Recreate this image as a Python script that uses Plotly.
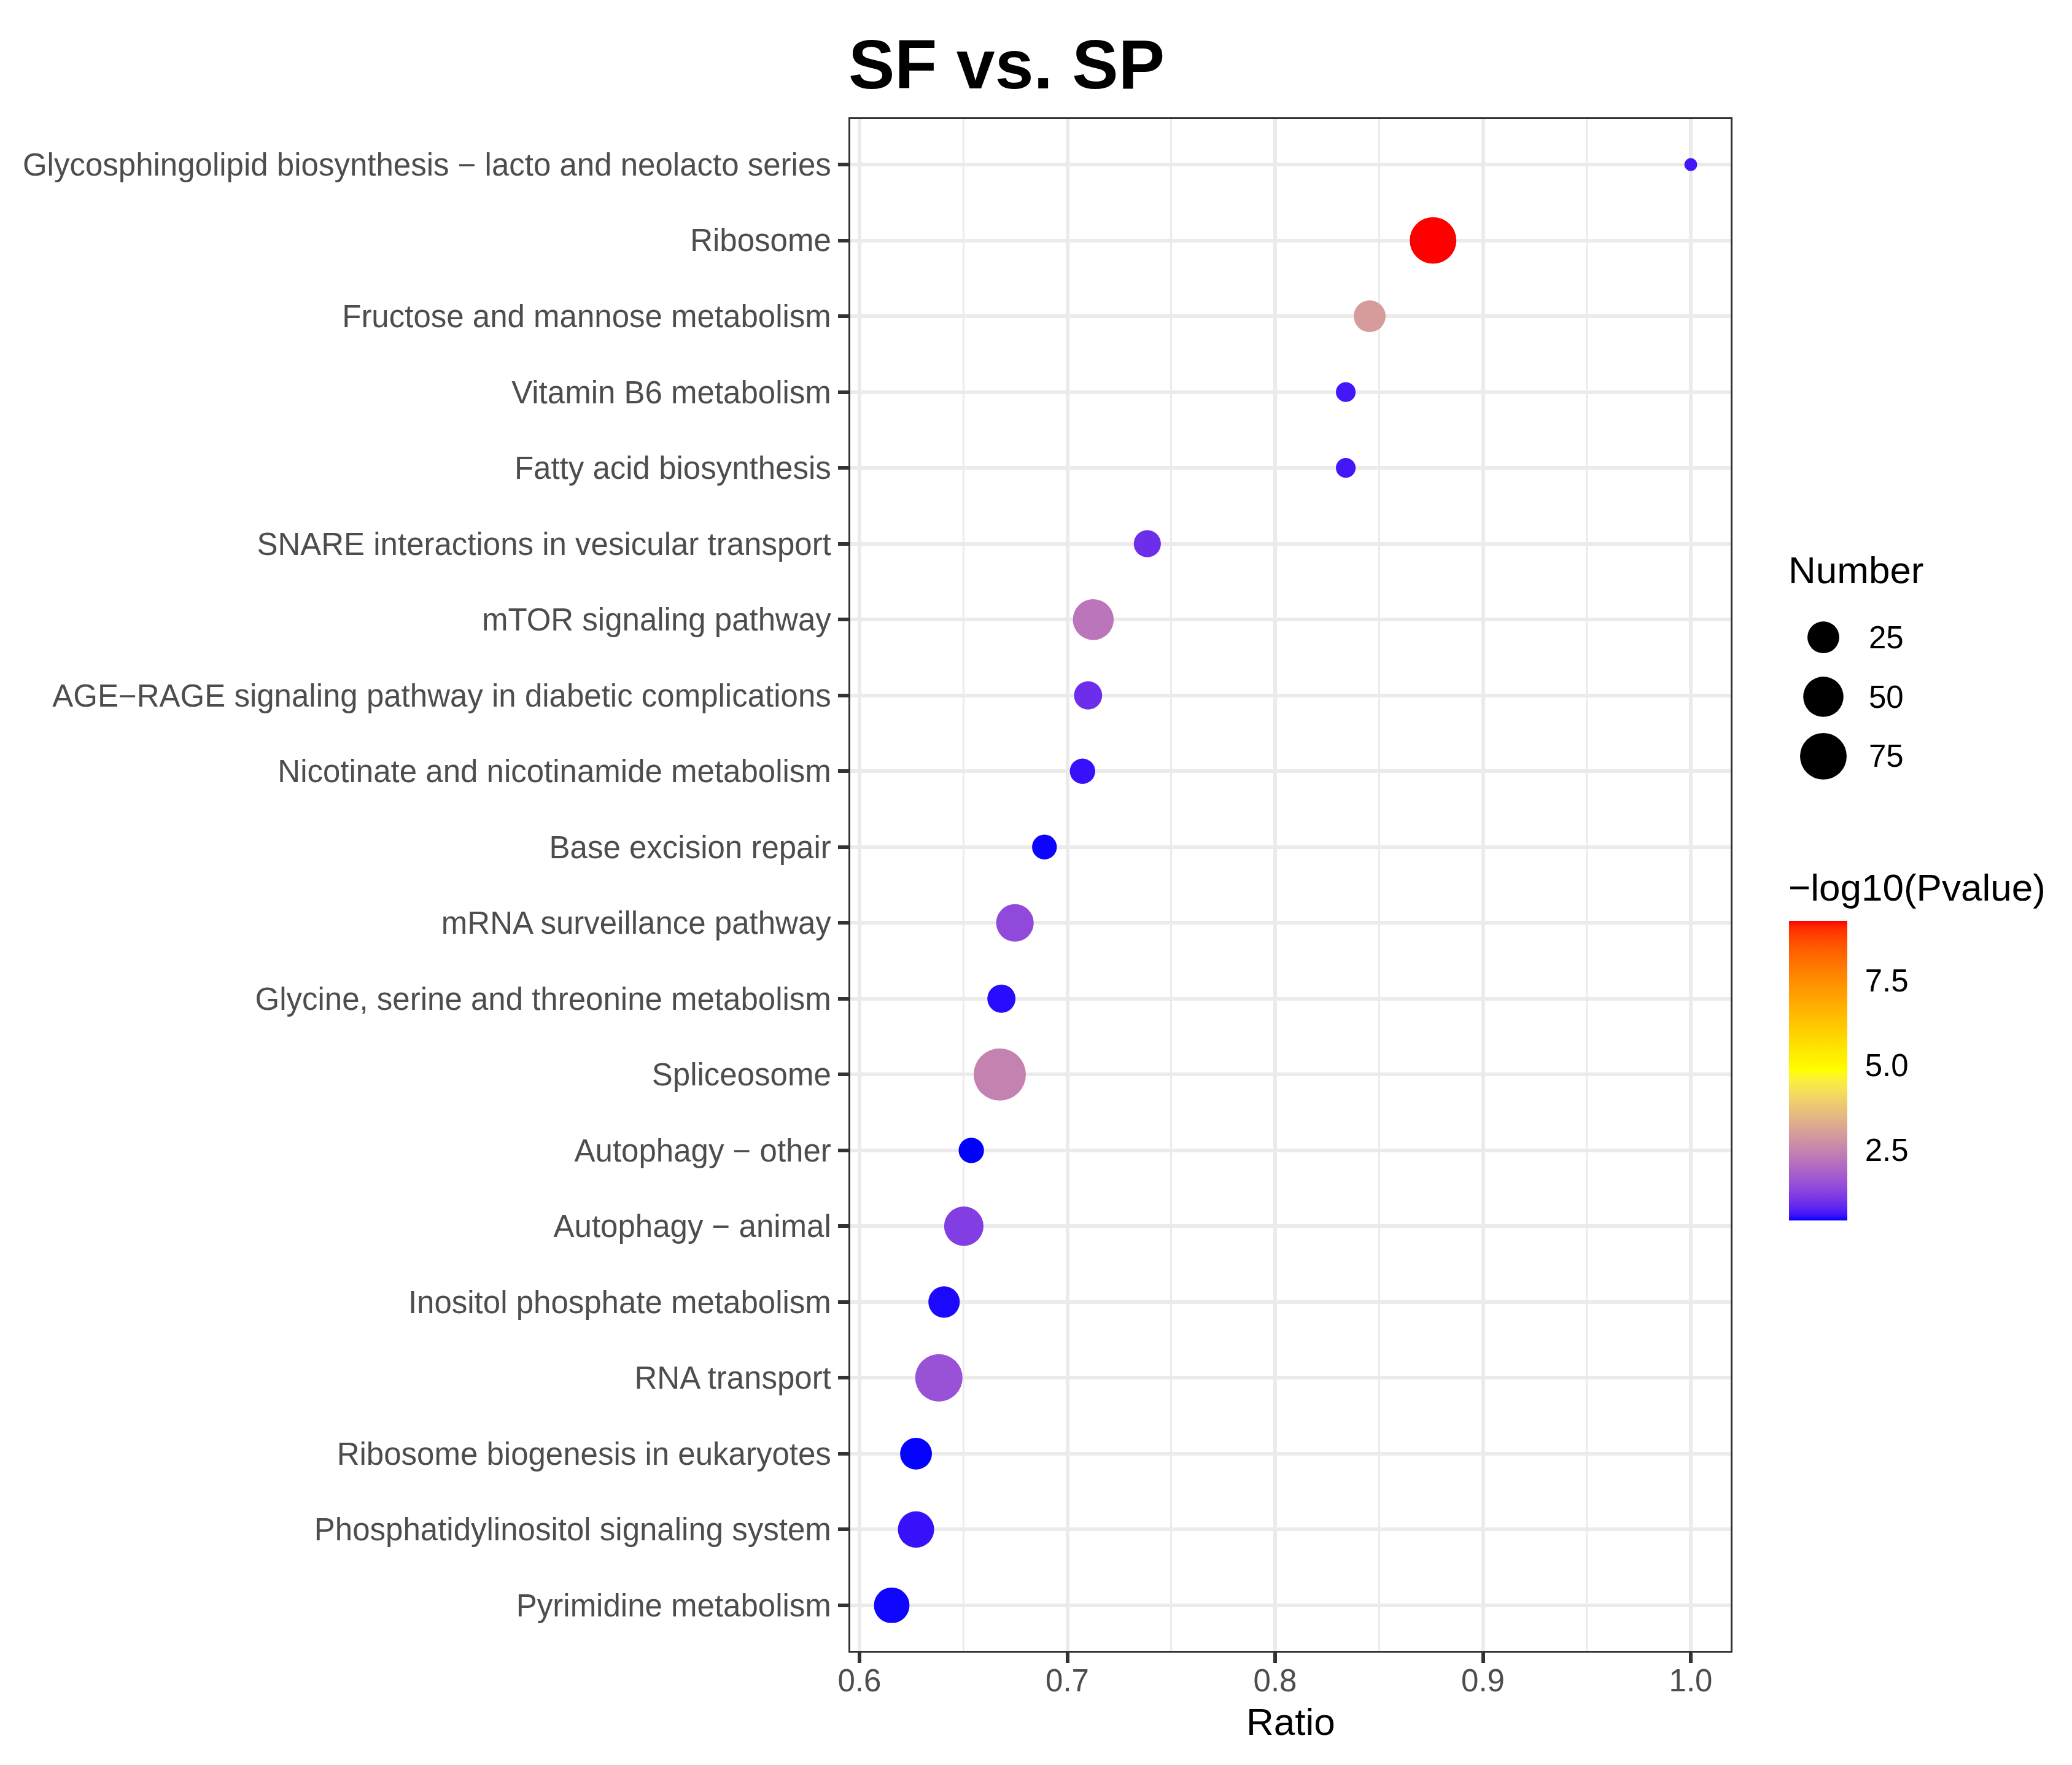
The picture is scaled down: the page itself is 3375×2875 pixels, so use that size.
import numpy as np
import plotly.graph_objects as go

# ---- data (rows listed top to bottom as in the chart) ----
pathways = [
    "Glycosphingolipid biosynthesis \u2212 lacto and neolacto series",
    "Ribosome",
    "Fructose and mannose metabolism",
    "Vitamin B6 metabolism",
    "Fatty acid biosynthesis",
    "SNARE interactions in vesicular transport",
    "mTOR signaling pathway",
    "AGE\u2212RAGE signaling pathway in diabetic complications",
    "Nicotinate and nicotinamide metabolism",
    "Base excision repair",
    "mRNA surveillance pathway",
    "Glycine, serine and threonine metabolism",
    "Spliceosome",
    "Autophagy \u2212 other",
    "Autophagy \u2212 animal",
    "Inositol phosphate metabolism",
    "RNA transport",
    "Ribosome biogenesis in eukaryotes",
    "Phosphatidylinositol signaling system",
    "Pyrimidine metabolism",
]
ratio = [1.000, 0.876, 0.8455, 0.834, 0.834, 0.7385, 0.7125, 0.710, 0.7073, 0.689,
         0.6748, 0.6683, 0.6675, 0.6538, 0.6502, 0.6407, 0.6382, 0.6272, 0.6272, 0.6155]
number = [2, 75, 25, 5, 5, 15, 52, 17, 12, 11,
          41, 17, 101, 12, 47, 24, 78, 25, 37, 35]
neglog10p = [0.62, 9.26, 2.97, 0.62, 0.62, 0.95, 2.23, 0.95, 0.56, 0.45,
             1.40, 0.52, 2.47, 0.42, 1.20, 0.49, 1.55, 0.43, 0.56, 0.46]

size_breaks = [25, 50, 75]
color_ticks = [2.5, 5.0, 7.5]

# ---- ggplot-like scales ----
D_MIN, D_MAX = 21, 85          # point diameter range (px)
n_min, n_max = min(number), max(number)


def point_size(n):
    n = np.asarray(n, dtype=float)
    return D_MIN + (D_MAX - D_MIN) * np.sqrt((n - n_min) / (n_max - n_min))


def to_lab(hexcol):
    rgb = np.array([int(hexcol[i:i + 2], 16) for i in (1, 3, 5)]) / 255
    lin = np.where(rgb <= 0.04045, rgb / 12.92, ((rgb + 0.055) / 1.055) ** 2.4)
    m = np.array([[0.4124564, 0.3575761, 0.1804375],
                  [0.2126729, 0.7151522, 0.0721750],
                  [0.0193339, 0.1191920, 0.9503041]])
    xyz = m @ lin / np.array([0.95047, 1.0, 1.08883])
    f = np.where(xyz > 0.008856, np.cbrt(xyz), 7.787 * xyz + 16 / 116)
    return np.array([116 * f[1] - 16, 500 * (f[0] - f[1]), 200 * (f[1] - f[2])])


def from_lab(lab):
    fy = (lab[0] + 16) / 116
    f = np.array([fy + lab[1] / 500, fy, fy - lab[2] / 200])
    xyz = np.where(f ** 3 > 0.008856, f ** 3, (f - 16 / 116) / 7.787)
    xyz = xyz * np.array([0.95047, 1.0, 1.08883])
    m = np.array([[3.2404542, -1.5371385, -0.4985314],
                  [-0.9692660, 1.8760108, 0.0415560],
                  [0.0556434, -0.2040259, 1.0572252]])
    lin = np.clip(m @ xyz, 0, 1)
    rgb = np.where(lin <= 0.0031308, 12.92 * lin, 1.055 * lin ** (1 / 2.4) - 0.055)
    r, g, b = np.round(np.clip(rgb, 0, 1) * 255).astype(int)
    return f"rgb({r},{g},{b})"


# blue -> yellow -> red, interpolated in Lab like scale_colour_gradientn
ramp = [to_lab("#0000ff"), to_lab("#ffff00"), to_lab("#ff0000")]
colorscale = []
for p in np.linspace(0, 1, 61):
    if p <= 0.5:
        lab = ramp[0] + (ramp[1] - ramp[0]) * (p / 0.5)
    else:
        lab = ramp[1] + (ramp[2] - ramp[1]) * ((p - 0.5) / 0.5)
    colorscale.append([float(p), from_lab(lab)])
c_min, c_max = min(neglog10p), max(neglog10p)

# ---- geometry (pixels, figure coordinates) ----
W, H = 3367, 2867
M_L, M_R, M_T, M_B = 1377, 0, 186, 186
PANEL_R = 2811
paper_w = W - M_L - M_R
paper_h = H - M_T - M_B


def px_x(x):
    return (x - M_L) / paper_w


def px_y(y):
    return (H - M_B - y) / paper_h


FONT = "Liberation Sans, Arial, sans-serif"
GRID = "#ebebeb"
DARK = "#333333"

CB_X, CB_W = 2906, 95
CB_TOP, CB_LEN = 1492, 488

fig = go.Figure()

fig.add_trace(go.Scatter(
    x=ratio, y=pathways, mode="markers",
    marker=dict(
        size=point_size(number), color=neglog10p, colorscale=colorscale,
        cmin=c_min, cmax=c_max, line=dict(width=0), opacity=1,
        colorbar=dict(
            x=px_x(CB_X), xanchor="left", xpad=0,
            y=px_y(CB_TOP + CB_LEN / 2), yanchor="middle", ypad=0,
            thickness=CB_W, thicknessmode="pixels",
            len=CB_LEN, lenmode="pixels",
            outlinewidth=0,
            tickvals=color_ticks, ticktext=[f"{t:.1f}" for t in color_ticks],
            ticks="outside", ticklen=19, tickwidth=1, tickcolor="rgba(0,0,0,0)",
            tickfont=dict(size=51, color="black", family=FONT),
        ),
    ),
    showlegend=False, hoverinfo="x+y",
))

# size legend on its own small axis pair
fig.add_trace(go.Scatter(
    x=[54] * len(size_breaks), y=list(range(len(size_breaks))),
    mode="markers", xaxis="x2", yaxis="y2",
    marker=dict(size=point_size(size_breaks), color="#000000", opacity=1,
                line=dict(width=0)),
    showlegend=False, hoverinfo="skip",
))
for i, b in enumerate(size_breaks):
    fig.add_annotation(x=126, y=i, xref="x2", yref="y2", text=str(b),
                       showarrow=False, xanchor="left", yanchor="middle",
                       font=dict(size=51, color="black", family=FONT))

fig.add_annotation(x=px_x(2903), y=px_y(920), xref="paper", yref="paper",
                   text="Number", showarrow=False, xanchor="left", yanchor="middle",
                   font=dict(size=62, color="black", family=FONT))

fig.add_annotation(x=px_x(CB_X - 3), y=px_y(1437), xref="paper", yref="paper",
                   text="\u2212log10(Pvalue)", showarrow=False,
                   xanchor="left", yanchor="middle",
                   font=dict(size=62, color="black", family=FONT))

fig.add_annotation(x=0, y=px_y(97), xref="paper", yref="paper", xshift=-5,
                   text="<b>SF vs. SP</b>", showarrow=False,
                   xanchor="left", yanchor="middle",
                   font=dict(size=113, color="black", family=FONT))

fig.add_annotation(x=px_x((M_L + PANEL_R) / 2), y=px_y(2796), xref="paper", yref="paper",
                   text="Ratio", showarrow=False, xanchor="center", yanchor="middle",
                   font=dict(size=62, color="black", family=FONT))

# white ticks on both sides of the colour bar
for t in color_ticks:
    yy = CB_TOP + CB_LEN - (t - c_min) / (c_max - c_min) * CB_LEN
    for x0 in (CB_X, CB_X + CB_W - 19):
        fig.add_shape(type="line", xref="paper", yref="paper",
                      x0=px_x(x0), x1=px_x(x0 + 19), y0=px_y(yy), y1=px_y(yy),
                      line=dict(color="white", width=2))

fig.update_layout(
    width=W, height=H, autosize=False,
    margin=dict(l=M_L, r=M_R, t=M_T, b=M_B),
    paper_bgcolor="white", plot_bgcolor="white",
    font=dict(family=FONT),
    showlegend=False,
    xaxis=dict(
        domain=[0, px_x(PANEL_R)],
        range=[0.59557, 1.0192], tickvals=[0.6, 0.7, 0.8, 0.9, 1.0],
        ticktext=["0.6", "0.7", "0.8", "0.9", "1.0"],
        showgrid=True, gridcolor=GRID, gridwidth=5.5,
        minor=dict(tickvals=[0.65, 0.75, 0.85, 0.95], showgrid=True,
                   gridcolor=GRID, gridwidth=3, ticks=""),
        ticks="outside", ticklen=17, tickwidth=6, tickcolor=DARK,
        ticklabelstandoff=-15,
        tickfont=dict(size=51, color="#4d4d4d", family=FONT),
        showline=True, linecolor=DARK, linewidth=3, mirror=True,
        zeroline=False,
    ),
    yaxis=dict(
        type="category", categoryorder="array", categoryarray=pathways[::-1],
        range=[-0.6, len(pathways) - 0.4],
        showgrid=True, gridcolor=GRID, gridwidth=5.5,
        ticks="outside", ticklen=17, tickwidth=6, tickcolor=DARK,
        ticklabelstandoff=1,
        tickfont=dict(size=51, color="#4d4d4d", family=FONT),
        showline=True, linecolor=DARK, linewidth=3, mirror=True,
        zeroline=False,
    ),
    xaxis2=dict(domain=[px_x(2908), px_x(3108)], range=[0, 200],
                visible=False, anchor="y2"),
    yaxis2=dict(domain=[px_y(1282), px_y(972)], range=[2.6, -0.6],
                visible=False, anchor="x2"),
)

fig.write_html("out.html")
